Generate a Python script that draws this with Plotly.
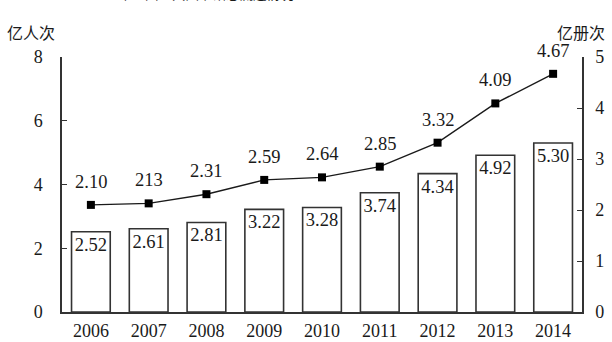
import plotly.graph_objects as go

years = ["2006", "2007", "2008", "2009", "2010", "2011", "2012", "2013", "2014"]
visits = [2.52, 2.61, 2.81, 3.22, 3.28, 3.74, 4.34, 4.92, 5.30]          # 亿人次
circulation = [2.10, 2.13, 2.31, 2.59, 2.64, 2.85, 3.32, 4.09, 4.67]     # 亿册次
visit_labels = ["2.52", "2.61", "2.81", "3.22", "3.28", "3.74", "4.34", "4.92", "5.30"]
circ_labels = ["2.10", "213", "2.31", "2.59", "2.64", "2.85", "3.32", "4.09", "4.67"]

SERIF = "Liberation Serif, Times New Roman, serif"
CJK = "Noto Sans CJK SC"
INK = "#1a1a1a"

fig = go.Figure()

fig.add_trace(go.Bar(
    x=years, y=visits, yaxis="y",
    marker=dict(color="white", line=dict(color="#333333", width=1.6)),
    text=visit_labels, textposition="inside", insidetextanchor="end",
    constraintext="none", textangle=0,
    textfont=dict(family=SERIF, size=18.5, color=INK),
    hoverinfo="skip",
))

fig.add_trace(go.Scatter(
    x=years, y=circulation, yaxis="y2",
    mode="lines+markers",
    line=dict(color=INK, width=1.4),
    marker=dict(symbol="square", size=8, color="black"),
    cliponaxis=False, hoverinfo="skip",
))

# value labels above the circulation markers (category axis -> index positions)
circ_notes = [
    dict(x=i, y=v, xref="x", yref="y2", text=t, showarrow=False,
         yshift=23, font=dict(family=SERIF, size=18.5, color=INK))
    for i, (v, t) in enumerate(zip(circulation, circ_labels))
]

axis_font = dict(family=SERIF, size=18, color=INK)

fig.update_layout(
    width=612, height=342,
    margin=dict(l=62, r=30, t=57, b=30),
    paper_bgcolor="white", plot_bgcolor="white",
    showlegend=False, bargap=0.33,
    font=dict(family=SERIF, size=18, color=INK),
    xaxis=dict(
        type="category", range=[-0.5, len(years) - 0.5],
        showgrid=False, showline=True, linecolor="#333333", linewidth=1.5,
        ticks="", tickfont=axis_font, ticklabelstandoff=2, automargin=False,
    ),
    yaxis=dict(
        range=[0, 8], tickvals=[0, 2, 4, 6, 8], showgrid=False, zeroline=False,
        showline=True, linecolor="#333333", linewidth=1.5,
        ticks="inside", ticklen=5, tickcolor="#333333", tickwidth=1.2,
        tickfont=axis_font, ticklabelstandoff=14, automargin=False,
    ),
    yaxis2=dict(
        range=[0, 5], tickvals=[0, 1, 2, 3, 4, 5], overlaying="y", side="right",
        showgrid=False, zeroline=False,
        showline=True, linecolor="#333333", linewidth=1.5,
        ticks="inside", ticklen=5, tickcolor="#333333", tickwidth=1.2,
        tickfont=axis_font, ticklabelstandoff=8, automargin=False,
    ),
    annotations=circ_notes + [
        dict(text="亿人次", xref="paper", yref="paper", x=-0.06, y=1.045,
             xanchor="center", yanchor="bottom", showarrow=False,
             font=dict(family=CJK, size=16, color=INK)),
        dict(text="亿册次", xref="paper", yref="paper", x=0.998, y=1.045,
             xanchor="center", yanchor="bottom", showarrow=False,
             font=dict(family=CJK, size=16, color=INK)),
        dict(text="2006—2014年全国公共图书馆总流通情况", xref="paper", yref="paper",
             x=0.208, y=1.205, xanchor="center", yanchor="bottom", showarrow=False,
             font=dict(family=CJK, size=13.5, color=INK)),
    ],
)

fig.write_html("out.html")
